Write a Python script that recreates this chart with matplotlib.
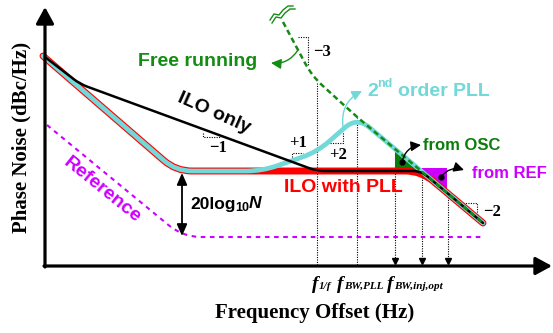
import matplotlib
matplotlib.use("Agg")
import matplotlib.pyplot as plt
from matplotlib.path import Path
from matplotlib.patches import PathPatch, Polygon, FancyArrowPatch
import numpy as np

# ---------------- data (schematic units: offset axis -> right, noise axis -> down) -------------
free_x = [283, 312, 357, 483]
free_y = [22, 76, 117, 223]
pll_x = [43, 176, 262, 317, 357, 483]
pll_y = [56, 171, 171, 152, 117, 223]
ilopll_x = [43, 176, 421, 483]
ilopll_y = [56, 171, 171, 223]
ilo_x = [45, 80, 317, 421, 483]
ilo_y = [57, 84, 171, 171, 223]
ref_x = [47, 183, 483]
ref_y = [125, 237, 237]

osc_tri_x = [395, 395, 419]
osc_tri_y = [149, 169, 169]
ref_tri_x = [421, 447, 447]
ref_tri_y = [168, 168, 192]

mark_x = [317, 357, 395, 422, 448]
mark_top = [83, 117, 149, 172, 192]
mark_arrow = [False, False, True, True, True]

tick_x = [312, 337, 387]
tick_sub = ['1/f', 'BW,PLL', 'BW,inj,opt']

# slope indicator triangles (dotted) and labels
slope_paths = {
    '−3': ([298, 308, 308], [37, 37, 65], (322, 52)),
    '−1': ([203, 203, 220], [133, 137, 137], (218, 148)),
    '+1': ([292, 292, 303], [157, 153, 153], (298, 143)),
    '+2': ([330, 343, 343], [143, 143, 132], (338, 155)),
    '−2': ([463, 477, 477], [203, 203, 215], (492, 212)),
}

squig1_x = [270, 274, 279, 283, 288, 293]
squig1_y = [20, 14, 15, 10, 6, 6]
squig2_x = [272, 276, 281, 285, 290, 295]
squig2_y = [23, 17, 18, 13, 9, 9]

GREEN = '#148C14'
DKGREEN = '#0A7D0A'
CYAN = '#72D8D8'
RED = '#FF0000'
PURPLE = '#CC00FF'


def rounded(xs, ys, r):
    pts = np.column_stack([xs, ys]).astype(float)
    verts = [tuple(pts[0])]
    codes = [Path.MOVETO]
    for i in range(1, len(pts) - 1):
        p0, p1, p2 = pts[i - 1], pts[i], pts[i + 1]
        l1 = np.linalg.norm(p1 - p0)
        l2 = np.linalg.norm(p2 - p1)
        d1 = (p1 - p0) / l1
        d2 = (p2 - p1) / l2
        rr = min(r, l1 / 2, l2 / 2)
        a = p1 - d1 * rr
        b = p1 + d2 * rr
        verts += [tuple(a), tuple(p1), tuple(b)]
        codes += [Path.LINETO, Path.CURVE3, Path.CURVE3]
    verts.append(tuple(pts[-1]))
    codes.append(Path.LINETO)
    return Path(verts, codes)


fig = plt.figure(figsize=(5.53, 3.33), dpi=100)
ax = fig.add_axes([0, 0, 1, 1])
ax.set_xlim(0, 553)
ax.set_ylim(333, 0)
ax.axis('off')

SANS = 'Liberation Sans'
SERIF = 'Liberation Serif'

# fills
ax.add_patch(Polygon(np.column_stack([osc_tri_x, osc_tri_y]), closed=True, color=DKGREEN, lw=0, zorder=2))
ax.add_patch(Polygon(np.column_stack([ref_tri_x, ref_tri_y]), closed=True, color=PURPLE, lw=0, zorder=2))

# reference
ax.add_patch(PathPatch(rounded(ref_x, ref_y, 18), fill=False, ec=PURPLE, lw=1.5,
                       ls=(0, (2.2, 2.2)), zorder=3))
# ILO with PLL (red band)
ax.add_patch(PathPatch(rounded(ilopll_x, ilopll_y, 16), fill=False, ec=RED, lw=5.0,
                       capstyle='round', joinstyle='round', zorder=4))
# 2nd order PLL (cyan)
ax.add_patch(PathPatch(rounded(pll_x, pll_y, 16), fill=False, ec=CYAN, lw=3.4,
                       capstyle='round', joinstyle='round', zorder=5))
# ILO only (black)
ax.add_patch(PathPatch(rounded(ilo_x, ilo_y, 8), fill=False, ec='black', lw=1.8,
                       capstyle='round', joinstyle='round', zorder=6))
# free running (green dashed)
ax.add_patch(PathPatch(rounded(free_x, free_y, 14), fill=False, ec=GREEN, lw=1.8,
                       ls=(0, (2.2, 1.4)), zorder=7))
ax.plot(squig1_x, squig1_y, color=GREEN, lw=1.0, zorder=7)
ax.plot(squig2_x, squig2_y, color=GREEN, lw=1.0, zorder=7)

# vertical dotted markers
for x, top, arr in zip(mark_x, mark_top, mark_arrow):
    bottom = 262 if arr else 266
    ax.plot([x, x], [top, bottom], color='black', lw=0.8, ls=(0, (1, 1.2)), zorder=1)
    if arr:
        ax.plot([x], [261], marker='v', color='black', ms=5, zorder=1)

# slope indicators
for lab, (xs, ys, (lx, ly)) in slope_paths.items():
    ax.plot(xs, ys, color='black', lw=0.8, ls=(0, (1, 1.2)), zorder=1)
    ax.text(lx, ly, lab, fontsize=12, fontweight='bold', family=SERIF, ha='center', va='center')

# axes
ax.annotate('', xy=(45, 7), xytext=(45, 267),
            arrowprops=dict(arrowstyle='-|>,head_length=0.55,head_width=0.3', lw=2.3, color='black',
                            mutation_scale=18, shrinkA=0, shrinkB=0), zorder=8)
ax.annotate('', xy=(552, 266), xytext=(44, 266),
            arrowprops=dict(arrowstyle='-|>,head_length=0.55,head_width=0.3', lw=2.3, color='black',
                            mutation_scale=18, shrinkA=0, shrinkB=0), zorder=8)

# 20log10N arrow
ax.annotate('', xy=(182, 173), xytext=(182, 236),
            arrowprops=dict(arrowstyle='<|-|>,head_length=0.5,head_width=0.22', lw=1.3, color='black',
                            mutation_scale=14, shrinkA=0, shrinkB=0), zorder=8)
ax.text(190, 204, '20log', fontsize=12.5, fontweight='bold', family=SANS, ha='left', va='center')
ax.text(235, 208, '10', fontsize=9, fontweight='bold', family=SANS, ha='left', va='center')
ax.text(249, 204, 'N', fontsize=12.5, fontweight='bold', style='italic', family=SANS, ha='left', va='center')

# curved arrows
def carrow(p0, p1, color, rad, dot=False):
    a = FancyArrowPatch(p0, p1, connectionstyle=f'arc3,rad={rad}',
                        arrowstyle='-|>,head_length=0.5,head_width=0.25', mutation_scale=12,
                        color=color, lw=1.0, shrinkA=0, shrinkB=0, zorder=9)
    ax.add_patch(a)
    if dot:
        ax.plot([p0[0]], [p0[1]], 'o', color='black', ms=3.5, zorder=9)

carrow((298, 50), (271, 63), GREEN, -0.3)
carrow((343, 127), (362, 91), CYAN, -0.35)
carrow((402, 162), (421, 145), 'black', -0.35, dot=True)
carrow((441, 177), (464, 170), 'black', -0.35, dot=True)

# labels
ax.text(138, 62, 'Free running', fontsize=14, fontweight='bold', family=SANS, color=GREEN,
        ha='left', va='center')
ax.text(214, 113, 'ILO only', fontsize=14, fontweight='bold', family=SANS, color='black',
        ha='center', va='center', rotation=-24)
ax.text(367, 91, '2', fontsize=14, fontweight='bold', family=SANS, color=CYAN, ha='left', va='center')
ax.text(377, 84, 'nd', fontsize=9, fontweight='bold', family=SANS, color=CYAN, ha='left', va='center')
ax.text(398, 91, 'order PLL', fontsize=14, fontweight='bold', family=SANS, color=CYAN, ha='left', va='center')
ax.text(343, 187, 'ILO with PLL', fontsize=14, fontweight='bold', family=SANS, color=RED,
        ha='center', va='center')
ax.text(102, 190, 'Reference', fontsize=14, fontweight='bold', family=SANS, color=PURPLE,
        ha='center', va='center', rotation=-39)
ax.text(423, 145, 'from OSC', fontsize=12, fontweight='bold', family=SANS, color=DKGREEN,
        ha='left', va='center')
ax.text(472, 173, 'from REF', fontsize=12, fontweight='bold', family=SANS, color=PURPLE,
        ha='left', va='center')

for x, sub in zip(tick_x, tick_sub):
    ax.text(x, 289, 'f', fontsize=14, fontweight='bold', style='italic', family=SERIF,
            ha='left', va='baseline')
    ax.text(x + 7, 289, sub, fontsize=8, fontweight='bold', style='italic', family=SERIF,
            ha='left', va='baseline')

ax.text(21, 137, 'Phase Noise (dBc/Hz)', fontsize=15, fontweight='bold', family=SERIF,
        rotation=90, ha='center', va='center')
ax.text(315, 313, 'Frequency Offset (Hz)', fontsize=15, fontweight='bold', family=SERIF,
        ha='center', va='center')

fig.savefig('out.png', dpi=100)
